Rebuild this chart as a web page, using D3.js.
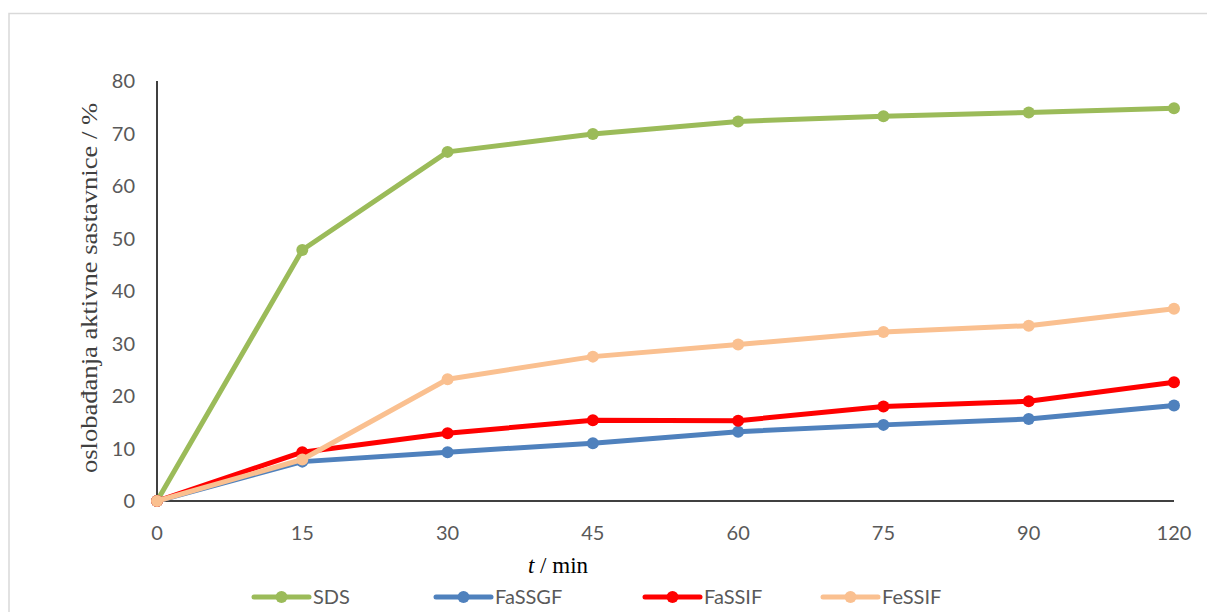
<!DOCTYPE html>
<html>
<head>
<meta charset="utf-8">
<script src="https://cdn.jsdelivr.net/npm/d3@7"></script>
<style>
  html, body { margin: 0; padding: 0; background: #fff; }
  svg { display: block; }
</style>
</head>
<body>
<svg id="chart" width="1207" height="612"></svg>
<script>
const categories = ["0", "15", "30", "45", "60", "75", "90", "120"];
const yTicks = [0, 10, 20, 30, 40, 50, 60, 70, 80];
const seriesNames = ["SDS", "FaSSGF", "FaSSIF", "FeSSIF"];
const seriesColors = ["#9bbb59", "#4f81bd", "#ff0000", "#fac090"];
const sdsValues    = [0, 47.8, 66.5, 69.9, 72.3, 73.3, 74.0, 74.8];
const fassgfValues = [0, 7.5, 9.3, 11.0, 13.2, 14.5, 15.6, 18.2];
const fassifValues = [0, 9.3, 12.9, 15.4, 15.3, 18.0, 19.0, 22.6];
const fessifValues = [0, 7.9, 23.2, 27.5, 29.8, 32.2, 33.4, 36.6];
const allValues = [sdsValues, fassgfValues, fassifValues, fessifValues];

const svg = d3.select("#chart");

// chart frame (partially visible)
svg.append("rect")
  .attr("x", 9).attr("y", 13.5)
  .attr("width", 1210).attr("height", 620)
  .attr("fill", "none").attr("stroke", "#d9d9d9").attr("stroke-width", 1.5);

const x = d3.scalePoint().domain(categories).range([157, 1174]);
const y = d3.scaleLinear().domain([0, 80]).range([501, 81]);

// axes lines
svg.append("line").attr("x1", x("0")).attr("x2", x("0"))
  .attr("y1", y(80)).attr("y2", y(0))
  .attr("stroke", "#000").attr("stroke-width", 1.5);
svg.append("line").attr("x1", x("0")).attr("x2", x("120"))
  .attr("y1", y(0)).attr("y2", y(0))
  .attr("stroke", "#000").attr("stroke-width", 1.5);

// y tick labels
svg.append("g").selectAll("text").data(yTicks).join("text")
  .attr("x", 135).attr("y", d => y(d))
  .attr("dy", "0.35em")
  .attr("text-anchor", "end")
  .attr("font-family", "Lato, Carlito, sans-serif")
  .attr("font-size", 20)
  .attr("fill", "#595959")
  .text(d => d);

// x tick labels
svg.append("g").selectAll("text").data(categories).join("text")
  .attr("x", d => x(d)).attr("y", 533)
  .attr("dy", "0.35em")
  .attr("text-anchor", "middle")
  .attr("font-family", "Lato, Carlito, sans-serif")
  .attr("font-size", 20)
  .attr("fill", "#595959")
  .text(d => d);

// y axis title
svg.append("text")
  .attr("transform", "translate(89, 288) rotate(-90)")
  .attr("text-anchor", "middle")
  .attr("dy", "0.35em")
  .attr("font-family", "'Liberation Serif', 'Times New Roman', serif")
  .attr("font-size", 24)
  .attr("textLength", 370)
  .attr("lengthAdjust", "spacingAndGlyphs")
  .attr("fill", "#404040")
  .text("oslobađanja aktivne sastavnice / %");

// x axis title
const xt = svg.append("text")
  .attr("x", 558).attr("y", 565)
  .attr("dy", "0.35em")
  .attr("text-anchor", "middle")
  .attr("font-family", "'Liberation Serif', 'Times New Roman', serif")
  .attr("font-size", 23)
  .attr("fill", "#000");
xt.append("tspan").attr("font-style", "italic").text("t");
xt.append("tspan").text(" / min");

// series
const line = d3.line().x((d, i) => x(categories[i])).y(d => y(d));
allValues.forEach((vals, s) => {
  const g = svg.append("g");
  g.append("path").datum(vals)
    .attr("d", line)
    .attr("fill", "none")
    .attr("stroke", seriesColors[s])
    .attr("stroke-width", 5)
    .attr("stroke-linejoin", "round")
    .attr("stroke-linecap", "round");
  g.selectAll("circle").data(vals).join("circle")
    .attr("cx", (d, i) => x(categories[i]))
    .attr("cy", d => y(d))
    .attr("r", 6)
    .attr("fill", seriesColors[s]);
});

// legend
const legendX = [254, 436, 645, 823];
const legendY = 597;
seriesNames.forEach((name, s) => {
  const g = svg.append("g");
  g.append("line")
    .attr("x1", legendX[s]).attr("x2", legendX[s] + 55)
    .attr("y1", legendY).attr("y2", legendY)
    .attr("stroke", seriesColors[s]).attr("stroke-width", 5)
    .attr("stroke-linecap", "round");
  g.append("circle")
    .attr("cx", legendX[s] + 27.5).attr("cy", legendY)
    .attr("r", 6).attr("fill", seriesColors[s]);
  g.append("text")
    .attr("x", legendX[s] + 59).attr("y", legendY)
    .attr("dy", "0.35em")
    .attr("font-family", "Lato, Carlito, sans-serif")
    .attr("font-size", 20)
    .attr("fill", "#595959")
    .text(name);
});
</script>
</body>
</html>
